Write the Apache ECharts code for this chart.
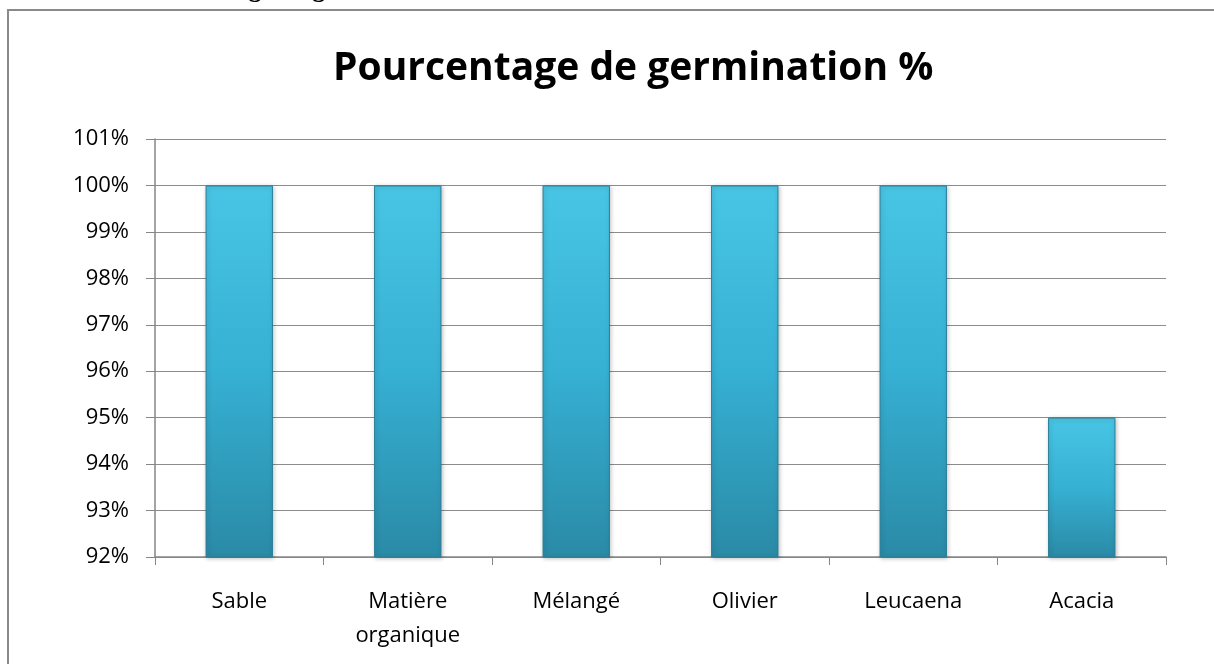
<!DOCTYPE html>
<html>
<head>
<meta charset="utf-8">
<script src="https://cdn.jsdelivr.net/npm/echarts@6/dist/echarts.min.js"></script>
<style>html,body{margin:0;padding:0;background:#fff;}#c{width:1214px;height:664px;}</style>
</head>
<body>
<div id="c"></div>
<script>
var categories = ['Sable', 'Matière\norganique', 'Mélangé', 'Olivier', 'Leucaena', 'Acacia'];
var values = [100, 100, 100, 100, 100, 95];
var yMin = 92, yMax = 101, yStep = 1;

var chart = echarts.init(document.getElementById('c'));
chart.setOption({
  animation: false,
  backgroundColor: '#ffffff',
  title: {
    text: 'Pourcentage de germination %',
    left: 328,
    top: 44,
    textStyle: { fontFamily: 'Open Sans', fontWeight: 'bold', fontSize: 39, color: '#000' }
  },
  graphic: [
    { type: 'rect', shape: { x: 8, y: 10, width: 1300, height: 800 }, style: { fill: 'none', stroke: '#8a8a8a', lineWidth: 2 }, z: -1 },
    { type: 'text', left: 135, top: -23, style: { text: 'Pourcentage de germination', font: 'bold 26px "Liberation Serif"', fill: '#000' } }
  ],
  grid: { left: 155, right: 48, top: 139, bottom: 107, containLabel: false },
  xAxis: {
    type: 'category',
    data: categories,
    axisLine: { lineStyle: { color: '#868686', width: 1.5 } },
    axisTick: { show: true, length: 8, lineStyle: { color: '#868686' } },
    axisLabel: { fontFamily: 'Open Sans', fontSize: 22, color: '#000', margin: 28, lineHeight: 34 }
  },
  yAxis: {
    type: 'value',
    min: yMin, max: yMax, interval: yStep,
    axisLine: { show: true, lineStyle: { color: '#868686', width: 1.5 } },
    axisTick: { show: true, length: 9, lineStyle: { color: '#868686' } },
    axisLabel: { fontFamily: 'Open Sans', fontSize: 22, color: '#000', margin: 26, formatter: '{value}%' },
    splitLine: { lineStyle: { color: '#8c8c8c', width: 1.2 } }
  },
  series: [{
    type: 'bar',
    data: values,
    barWidth: '40%',
    itemStyle: {
      color: new echarts.graphic.LinearGradient(0, 0, 0, 1, [
        { offset: 0, color: '#48c5e4' },
        { offset: 0.5, color: '#36b0d3' },
        { offset: 1, color: '#2a8aa6' }
      ]),
      borderColor: '#2a7f98',
      borderWidth: 1,
      shadowColor: 'rgba(0,0,0,0.25)',
      shadowBlur: 4,
      shadowOffsetX: 1,
      shadowOffsetY: 1
    }
  }]
});
</script>
</body>
</html>
